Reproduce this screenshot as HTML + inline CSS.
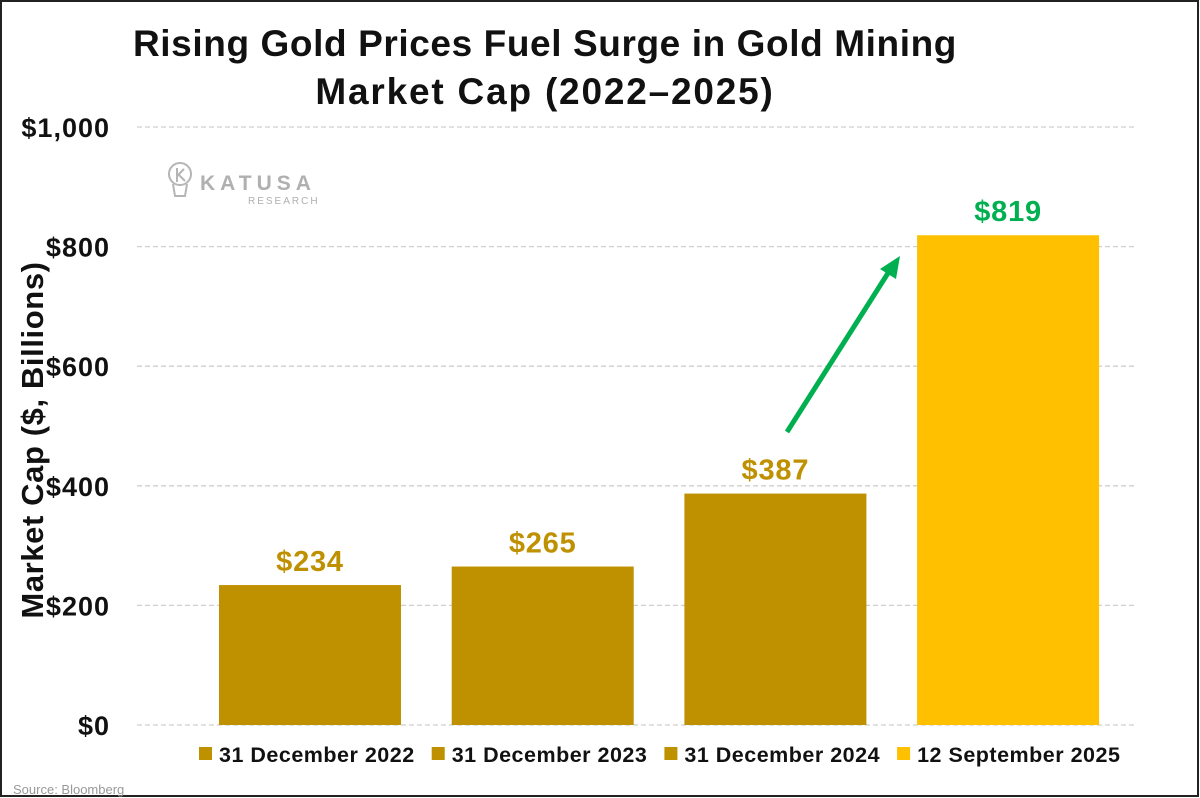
<!DOCTYPE html>
<html><head><meta charset="utf-8"><style>
html,body{margin:0;padding:0;background:#fff}
svg{display:block;font-family:"Liberation Sans",Arial,sans-serif}
</style></head><body>
<svg id="chart" width="1200" height="798" viewBox="0 0 1200 798">
<rect x="1" y="1" width="1197" height="795" fill="#fff" stroke="#222" stroke-width="2"/>
<text x="545" y="56" text-anchor="middle" font-size="37" font-weight="bold" letter-spacing="0.6" fill="#111">Rising Gold Prices Fuel Surge in Gold Mining</text>
<text x="545" y="104" text-anchor="middle" font-size="37" font-weight="bold" letter-spacing="1.8" fill="#111">Market Cap (2022–2025)</text>
<text transform="translate(43,440) rotate(-90)" text-anchor="middle" font-size="31" font-weight="bold" letter-spacing="0.6" fill="#111">Market Cap ($, Billions)</text>
<g id="grid"></g>
<g id="yticks"></g>
<g>
<circle cx="180" cy="174" r="11" fill="none" stroke="#b5b5b5" stroke-width="2"/>
<path d="M173 184 L175 196 L185 196 L187 184" fill="none" stroke="#b5b5b5" stroke-width="2"/>
<path d="M177 168 L177 182 M177 176 L184 169 M179 175 L185 181" stroke="#b5b5b5" stroke-width="2" fill="none"/>
<text x="200" y="190" font-size="21" font-weight="bold" fill="#b0b0b0" letter-spacing="5">KATUSA</text>
<text x="248" y="204" font-size="10" fill="#b0b0b0" letter-spacing="2">RESEARCH</text>
</g>
<g id="bars"></g>
<line x1="787" y1="432" x2="890" y2="270" stroke="#00B050" stroke-width="5"/>
<polygon points="900,256 880,269 896,279" fill="#00B050"/>
<g id="legend"></g>
<text x="13" y="794" font-size="13" fill="#999">Source: Bloomberg</text>
</svg>
<script>
const categories = ["31 December 2022","31 December 2023","31 December 2024","12 September 2025"];
const values = [234, 265, 387, 819];
const valueLabels = ["$234","$265","$387","$819"];
const colors = ["#BF9000","#BF9000","#BF9000","#FFC000"];
const labelColors = ["#BF9000","#BF9000","#BF9000","#00B050"];
const yTicks = [0,200,400,600,800,1000];
const yTickLabels = ["$0","$200","$400","$600","$800","$1,000"];
const NS="http://www.w3.org/2000/svg";
const y0=725, yTop=127, yMax=1000;
const yScale=v=>y0-(v/yMax)*(y0-yTop);
const xStart=219, step=232.7, bw=182;
function mk(t,a,p){const e=document.createElementNS(NS,t);for(const k in a)e.setAttribute(k,a[k]);p.appendChild(e);return e;}
const grid=document.getElementById('grid'), yt=document.getElementById('yticks');
yTicks.forEach((v,i)=>{
  const l=mk('line',{x1:137,x2:1135,y1:yScale(v),y2:yScale(v),stroke:"#cfcfcf","stroke-width":1.3,"stroke-dasharray":"5,3"},grid);
  
  
  const t=mk('text',{x:110,y:yScale(v)+10,"text-anchor":"end","font-size":27,"font-weight":"bold","letter-spacing":1,fill:"#111"},yt);
  t.textContent=yTickLabels[i];
  
  
});
const bars=document.getElementById('bars');
values.forEach((v,i)=>{
  const x=xStart+i*step;
  const r=mk('rect',{x:x,y:yScale(v),width:bw,height:y0-yScale(v),fill:colors[i]},bars);
  
  
  const t=mk('text',{x:x+bw/2,y:yScale(v)-14,"text-anchor":"middle","font-size":29,"font-weight":"bold","letter-spacing":0.8,fill:labelColors[i]},bars);
  t.textContent=valueLabels[i];
  
  
});
const lg=document.getElementById('legend');
categories.forEach((c,i)=>{
  const x=199+i*232.7;
  const s=mk('rect',{x:x,y:747,width:13,height:13,fill:colors[i]},lg);
  
  
  const t=mk('text',{x:x+20,y:762,"font-size":21.5,"font-weight":"bold","letter-spacing":0.5,fill:"#111"},lg);
  t.textContent=c;
  
  
});
</script>
</body></html>
